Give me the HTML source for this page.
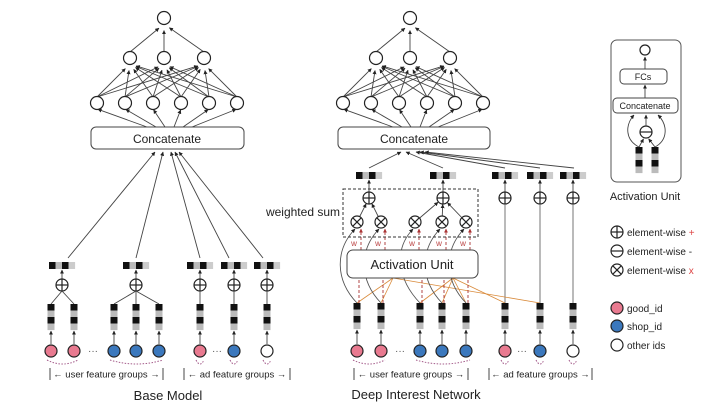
<!DOCTYPE html>
<html><head><meta charset="utf-8"><style>
html,body{margin:0;padding:0;background:#fff;}
svg{display:block;font-family:"Liberation Sans",Arial,sans-serif;}
</style></head><body>
<svg id="s" width="720" height="409" viewBox="0 0 720 409" xmlns="http://www.w3.org/2000/svg">
<defs>
<marker id="a" viewBox="0 0 6 6" refX="5.5" refY="3" markerWidth="4.5" markerHeight="4.5" orient="auto"><path d="M0,0L6,3L0,6z" fill="#222"/></marker>
<marker id="ar" viewBox="0 0 6 6" refX="5.5" refY="3" markerWidth="4.5" markerHeight="4.5" orient="auto"><path d="M0,0L6,3L0,6z" fill="#a33"/></marker>
</defs>
<g id="g"></g>
<rect x="91" y="127" width="153" height="22" rx="5" fill="#fff" stroke="#444"/>
<text x="167" y="143" font-size="12" text-anchor="middle" fill="#222">Concatenate</text>
<rect x="338" y="127" width="152" height="22" rx="5" fill="#fff" stroke="#444"/>
<text x="414" y="143" font-size="12" text-anchor="middle" fill="#222">Concatenate</text>
<rect x="343" y="189" width="135" height="48" fill="none" stroke="#333" stroke-dasharray="3,2"/>
<text x="340" y="216" font-size="12" text-anchor="end" fill="#222">weighted sum</text>
<rect x="611" y="40" width="70" height="142" rx="6" fill="none" stroke="#555"/>
<text x="645" y="200" font-size="11" text-anchor="middle" fill="#222">Activation Unit</text>
<text x="168" y="400" font-size="13" text-anchor="middle" fill="#222">Base Model</text>
<text x="416" y="399" font-size="13" text-anchor="middle" fill="#222">Deep Interest Network</text>
<g font-size="10" fill="#222">
<text x="627" y="236">element-wise <tspan fill="#d44">+</tspan></text>
<text x="627" y="255">element-wise -</text>
<text x="627" y="274">element-wise <tspan fill="#d44">x</tspan></text>
<text x="627" y="312">good_id</text>
<text x="627" y="330">shop_id</text>
<text x="627" y="349">other ids</text>
</g>
</svg>
<script>
var G=document.getElementById('g'),NS='http://www.w3.org/2000/svg';
function el(t,a,p){var e=document.createElementNS(NS,t);for(var k in a)e.setAttribute(k,a[k]);(p||G).appendChild(e);return e;}
function ln(x1,y1,x2,y2,o){o=o||{};var a={x1:x1,y1:y1,x2:x2,y2:y2,stroke:o.c||'#444','stroke-width':o.w||0.9};if(o.d)a['stroke-dasharray']=o.d;if(o.m!==false)a['marker-end']='url(#'+(o.mk||'a')+')';return el('line',a);}
function arr(x1,y1,x2,y2,r){var dx=x2-x1,dy=y2-y1,L=Math.sqrt(dx*dx+dy*dy);ln(x1,y1,x2-dx/L*r,y2-dy/L*r);}
function circ(x,y,r,f){el('circle',{cx:x,cy:y,r:r,fill:f||'#fff',stroke:'#222','stroke-width':1.2});}
function op(x,y,t){circ(x,y,6);if(t!='x'){ln(x-6,y,x+6,y,{m:false,c:'#222',w:1.2});}if(t=='+')ln(x,y-6,x,y+6,{m:false,c:'#222',w:1.2});if(t=='x'){ln(x-4.2,y-4.2,x+4.2,y+4.2,{m:false,c:'#222',w:1.2});ln(x-4.2,y+4.2,x+4.2,y-4.2,{m:false,c:'#222',w:1.2});}}
function hbar(cx,y){var c=['#111','#bbb','#111','#ccc'];for(var i=0;i<4;i++)el('rect',{x:cx-13+i*6.5,y:y,width:6.6,height:7,fill:c[i]});}
function vbar(x,y){var c=['#111','#bbb','#111','#bbb'];for(var i=0;i<4;i++)el('rect',{x:x-3.5,y:y+i*6.5,width:7,height:6.6,fill:c[i]});}
var P='#e97a90',B='#3b78bd';
function label(x1,x2,y,t){ln(x1,y-6,x1,y+6,{m:false,c:'#333'});ln(x2,y-6,x2,y+6,{m:false,c:'#333'});
 var tx=el('text',{x:(x1+x2)/2,y:y+3.5,'font-size':'9.5','text-anchor':'middle',fill:'#222'});tx.textContent='\u2190 '+t+' \u2192';}
function dots(x,y){var t=el('text',{x:x,y:y+3,'font-size':'10','text-anchor':'middle',fill:'#555'});t.textContent='\u00b7\u00b7\u00b7';}
function curve(x1,x2,y){el('path',{d:'M'+(x1-4)+','+y+' Q'+((x1+x2)/2)+','+(y+8)+' '+(x2+4)+','+y,fill:'none',stroke:'#a45b8a','stroke-width':1,'stroke-dasharray':'1.5,1.5'});}
function mlp(cx,ox){ // top network
 var bot=[97,125,153,181,209,237].map(function(v){return v+ox;}),mid=[130,164,204].map(function(v){return v+ox;}),top=164+ox;
 bot.forEach(function(b){mid.forEach(function(m){arr(b,97,m,64,6.5);});});
 mid.forEach(function(m){arr(m,52,top,24,6.5);});
 bot.forEach(function(b,i){arr(147+ox+i*9,127,b,109,1);});
 bot.forEach(function(b){circ(b,103,6.5);});mid.forEach(function(m){circ(m,58,6.5);});circ(top,18,6.5);
}
mlp(0,0);mlp(0,246);
// Base model
[68,136,200,229,263].forEach(function(x,i){ln(x,258,[155,163,171,175,179][i],152);});
[[62,[51,74]],[136,[114,136,159]]].forEach(function(g){hbar(g[0],262);ln(g[0],279,g[0],270);op(g[0],285,'+');g[1].forEach(function(x){ln(g[0],291,x,304,{m:false});});});
[200,234,267].forEach(function(x){hbar(x,262);ln(x,279,x,270);op(x,285,'+');ln(x,291,x,304,{m:false});});
[[51,P],[74,P],[114,B],[136,B],[159,B],[200,P],[234,B],[267,'#fff']].forEach(function(n){vbar(n[0],304);ln(n[0],344,n[0],331);circ(n[0],351,6,n[1]);});
dots(93,351);dots(217,351);
curve(51,74,360);curve(114,159,360);curve(200,200,360);curve(234,234,360);curve(267,267,360);
label(50,163,374,'user feature groups');label(184,290,374,'ad feature groups');
// DIN
[369,443,505,540,574].forEach(function(x,i){ln(x,168,[401,406,416,420,425][i],152);});
hbar(369,172);hbar(443,172);[505,540,573].forEach(function(x){hbar(x,172);});
ln(369,192,369,180);ln(443,192,443,180);
[505,540,573].forEach(function(x){ln(x,192,x,180);op(x,198,'+');ln(x,303,x,204,{m:false,c:'#666'});});
var og=[[357,369],[381,369],[415,443],[442,443],[466,443]];
og.forEach(function(o){arr(o[0],222,o[1],198,6.5);});
op(369,198,'+');op(443,198,'+');
var ux=[357,381,420,442,466];
// orange lines
[[393,[357,381,540]],[453,[420,442,466,505]]].forEach(function(g){g[1].forEach(function(x){el('line',{x1:g[0],y1:278,x2:x,y2:303,stroke:'#d98a3a','stroke-width':0.8});});});
// curves & dashed
ux.forEach(function(x,i){var ox=og[i][0];
 el('path',{d:'M'+x+',303 C'+(x-22)+',280 '+(ox-22)+',250 '+(ox-2)+',229',fill:'none',stroke:'#555','stroke-width':0.9,'marker-end':'url(#a)'});
 ln(x+2,303,x+2,278,{m:false,d:'3,2',c:'#a33'});
 ln(ox+4,250,ox+4,229,{d:'3,2',c:'#a33',mk:'ar'});
 var t=el('text',{x:ox-3,y:246,'font-size':'8','text-anchor':'middle',fill:'#b44'});t.textContent='w';});
el('rect',{x:347,y:250,width:131,height:28,rx:6,fill:'#fff',stroke:'#444'});
var t=el('text',{x:412,y:269,'font-size':'13','text-anchor':'middle',fill:'#222'});t.textContent='Activation Unit';
og.forEach(function(o){op(o[0],222,'x');});
[[357,P],[381,P],[420,B],[442,B],[466,B],[505,P],[540,B],[573,'#fff']].forEach(function(n){vbar(n[0],303);ln(n[0],344,n[0],330);circ(n[0],351,6,n[1]);});
dots(400,351);dots(522,351);
curve(357,381,360);curve(420,466,360);curve(505,505,360);curve(540,540,360);curve(573,573,360);
label(354,468,374,'user feature groups');label(489,592,374,'ad feature groups');
// activation unit legend
circ(645,50,5);ln(645,69,645,57);
el('rect',{x:620,y:69,width:47,height:15,rx:4,fill:'#fff',stroke:'#444'});
var t2=el('text',{x:643,y:80,'font-size':'9','text-anchor':'middle',fill:'#222'});t2.textContent='FCs';
ln(645,98,645,85);
el('rect',{x:613,y:98,width:65,height:15,rx:4,fill:'#fff',stroke:'#444'});
var t3=el('text',{x:645,y:109,'font-size':'9','text-anchor':'middle',fill:'#222'});t3.textContent='Concatenate';
vbar(639,147);vbar(655,147);
el('path',{d:'M639,147 C625,140 625,125 634,115',fill:'none',stroke:'#444','stroke-width':0.9,'marker-end':'url(#a)'});
el('path',{d:'M655,147 C668,140 668,125 658,115',fill:'none',stroke:'#444','stroke-width':0.9,'marker-end':'url(#a)'});
arr(639,147,644,138,1);arr(655,147,648,138,1);
op(646,132,'-');ln(646,126,646,115);
op(617,232,'+');op(617,251,'-');op(617,270,'x');
circ(617,308,6,P);circ(617,326,6,B);circ(617,345,6,'#fff');
</script>
</body></html>
